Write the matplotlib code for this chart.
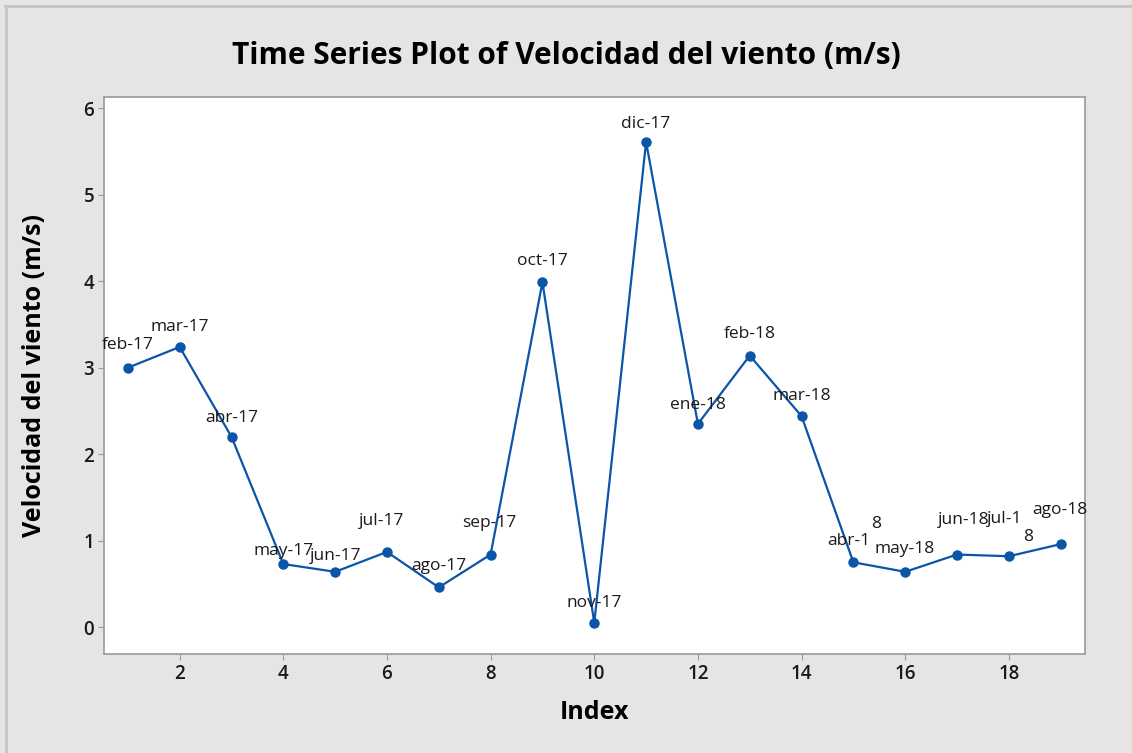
import matplotlib.pyplot as plt
from matplotlib.lines import Line2D

# wind speed by month (index 1..19)
index = list(range(1, 20))
speed = [3.00, 3.24, 2.20, 0.73, 0.64, 0.87, 0.46, 0.84, 3.99, 0.05,
         5.61, 2.35, 3.14, 2.44, 0.75, 0.64, 0.84, 0.82, 0.96]
months = ["feb-17", "mar-17", "abr-17", "may-17", "jun-17", "jul-17", "ago-17",
          "sep-17", "oct-17", "nov-17", "dic-17", "ene-18", "feb-18", "mar-18",
          "abr-1", "may-18", "jun-18", "jul-1", "ago-18"]

# label offsets in pixels (dx, dy), like the Minitab placement
offsets = [(0, 23), (0, 20), (0, 19), (0, 13), (1, 16), (-5, 31), (0, 21),
           (-1, 32), (0, 21), (0, 20), (0, 18), (0, 19), (0, 22), (0, 20),
           (-5, 21), (-1, 23), (7, 35), (-4, 37), (-1, 34)]

plt.rcParams['font.family'] = ['Open Sans', 'DejaVu Sans']

fig = plt.figure(figsize=(11.32, 7.53), dpi=100, facecolor='#e5e5e5')
ax = fig.add_axes([0.0919, 0.1315, 0.8666, 0.7397])
ax.set_facecolor('white')

# thin frame at top and left of the graph window
fig.add_artist(Line2D([0.004, 1], [0.992, 0.992], color='#c4c4c4', lw=2))
fig.add_artist(Line2D([0.005, 0.005], [0, 0.992], color='#c4c4c4', lw=2))

ax.plot(index, speed, color='#0b55a8', lw=1.6, marker='o', ms=6.5,
        markerfacecolor='#0b55a8', markeredgecolor='#0b55a8')

px = 0.72  # pixels -> points at 100 dpi
for x, y, lab, (dx, dy) in zip(index, speed, months, offsets):
    ax.annotate(lab, (x, y), xytext=(dx * px, dy * px), textcoords='offset points',
                ha='center', va='center', fontsize=12.5, color='#1a1a1a')
# the wrapped "8" pieces of two labels
ax.annotate("8", (15, speed[14]), xytext=(23 * px, 38 * px), textcoords='offset points',
            ha='center', va='center', fontsize=12.5, color='#1a1a1a')
ax.annotate("8", (18, speed[17]), xytext=(19 * px, 19 * px), textcoords='offset points',
            ha='center', va='center', fontsize=12.5, color='#1a1a1a')

ax.set_xlim(0.54, 19.47)
ax.set_ylim(-0.31, 6.13)
ax.set_xticks(range(2, 19, 2))
ax.set_yticks(range(0, 7))
ax.tick_params(direction='out', length=4, color='#9a9a9a', labelsize=13.5,
               labelcolor='#1a1a1a', pad=3)
for t in ax.get_xticklabels() + ax.get_yticklabels():
    t.set_fontweight('semibold')
for s in ax.spines.values():
    s.set_color('#9a9a9a')
    s.set_linewidth(1.2)

ax.set_xlabel("Index", fontsize=18, fontweight='bold', labelpad=12)
ax.set_ylabel("Velocidad del viento (m/s)", fontsize=18, fontweight='bold', labelpad=26)
fig.suptitle("Time Series Plot of Velocidad del viento (m/s)", fontsize=21.5,
             fontweight='bold', y=0.945)

fig.savefig("out.png", dpi=100, facecolor=fig.get_facecolor())
